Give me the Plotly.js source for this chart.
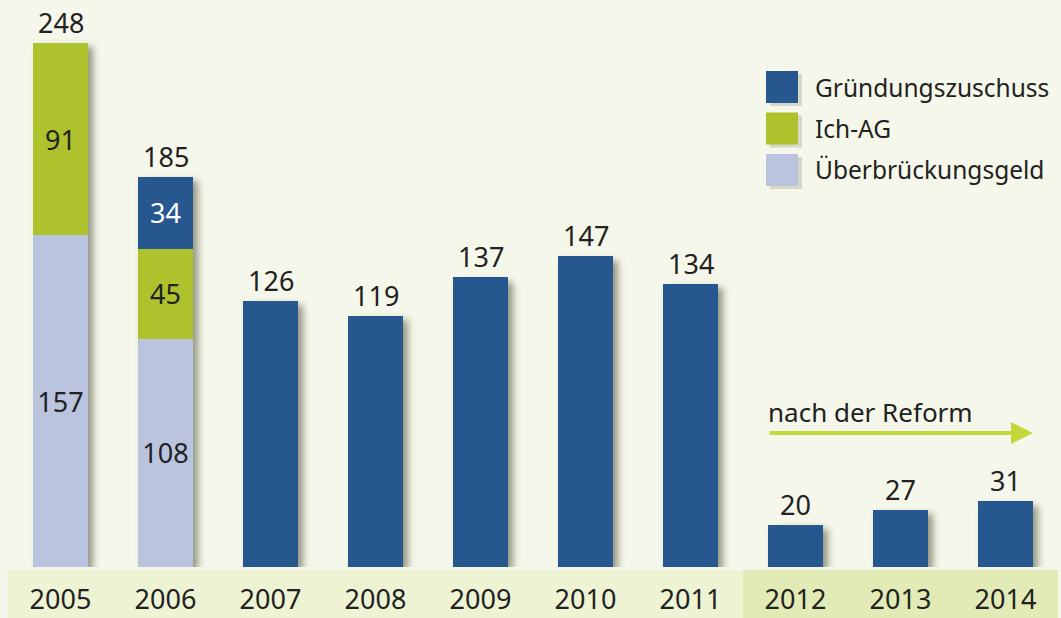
<!DOCTYPE html>
<html><head><meta charset="utf-8">
<script src="https://cdn.plot.ly/plotly-3.0.1.min.js"></script>
<style>html,body{margin:0;padding:0;background:#f5f7ea;} #chart{width:1061px;height:618px;}</style>
</head><body><div id="chart"></div>
<script>
// ---- data ----
const years = ['2005','2006','2007','2008','2009','2010','2011','2012','2013','2014'];
const ueberbrueckung = [157, 108, null, null, null, null, null, null, null, null];
const ichAG = [91, 42.6, null, null, null, null, null, null, null, null];
const gruendung = [null, 34.1, 126, 119, 137, 147, 134, 20, 27, 31];
const ueberLabels = ['157', '108', '', '', '', '', '', '', '', ''];
const ichLabels = ['91', '45', '', '', '', '', '', '', '', ''];
const gruendLabels = ['', '34', '', '', '', '', '', '', '', ''];
const totals = [248, 185, 126, 119, 137, 147, 134, 20, 27, 31];
const seriesNames = ['Gründungszuschuss', 'Ich-AG', 'Überbrückungsgeld'];
const reformNote = 'nach der Reform';
const reformStartIndex = 7;

// ---- style ----
const FONT = '"Noto Sans", "Open Sans", sans-serif';
const C_BLUE = '#26578f', C_GREEN = '#adc22d', C_LAV = '#bbc4de';
const BG = '#f5f7ea';
const W = 1061, H = 618, ML = 8, MR = 3, MT = 7, MB = 51;
const plotH = H - MT - MB;
const BW = 0.52;

const stackHeights = years.map((_, i) => (ueberbrueckung[i] || 0) + (ichAG[i] || 0) + (gruendung[i] || 0));

const traces = [
  { type: 'bar', x: years, y: stackHeights, base: years.map(() => -2), width: BW, offset: -BW / 2 + 0.045,
    marker: { color: 'rgba(70,72,50,0.55)' }, hoverinfo: 'skip', showlegend: false, name: 'shadow' },
  { type: 'bar', x: years, y: ueberbrueckung, name: seriesNames[2], width: BW, marker: { color: C_LAV },
    text: ueberLabels, textposition: 'inside', insidetextanchor: 'middle', textangle: 0, constraintext: 'none',
    textfont: { family: FONT, size: 27, color: '#222' }, hoverinfo: 'skip' },
  { type: 'bar', x: years, y: ichAG, name: seriesNames[1], width: BW, marker: { color: C_GREEN },
    text: ichLabels, textposition: 'inside', insidetextanchor: 'middle', textangle: 0, constraintext: 'none',
    textfont: { family: FONT, size: 27, color: '#222' }, hoverinfo: 'skip' },
  { type: 'bar', x: years, y: gruendung, name: seriesNames[0], width: BW, marker: { color: C_BLUE },
    text: gruendLabels, textposition: 'inside', insidetextanchor: 'middle', textangle: 0, constraintext: 'none',
    textfont: { family: FONT, size: 27, color: '#ffffff' }, hoverinfo: 'skip' }
];

const annotations = [];
years.forEach((yr, i) => {
  annotations.push({ x: i, y: stackHeights[i], xref: 'x', yref: 'y', text: String(totals[i]), showarrow: false,
    yanchor: 'bottom', yshift: 0, font: { family: FONT, size: 27, color: '#222' } });
});

const n = years.length;
const legColors = [C_BLUE, C_GREEN, C_LAV];
const shapes = [];
const bandTop = -3 / plotH, bandBot = -MB / plotH;
shapes.push({ type: 'rect', xref: 'paper', yref: 'paper', x0: 0, x1: reformStartIndex / n, y0: bandBot, y1: bandTop,
  fillcolor: '#edf3d3', line: { width: 0 }, layer: 'below' });
shapes.push({ type: 'rect', xref: 'paper', yref: 'paper', x0: reformStartIndex / n, x1: 1, y0: bandBot, y1: bandTop,
  fillcolor: '#e2ebb5', line: { width: 0 }, layer: 'below' });

const pxX = px => (px - ML) / (W - ML - MR);
const pxY = py => (H - MB - py) / plotH;
seriesNames.forEach((nm, k) => {
  const cy = 87 + k * 41.5;
  shapes.push({ type: 'rect', xref: 'paper', yref: 'paper', x0: pxX(770), x1: pxX(802), y0: pxY(cy + 16 + 3), y1: pxY(cy - 16 + 3),
    fillcolor: 'rgba(70,72,50,0.18)', line: { width: 0 } });
  shapes.push({ type: 'rect', xref: 'paper', yref: 'paper', x0: pxX(766), x1: pxX(798), y0: pxY(cy + 16), y1: pxY(cy - 16),
    fillcolor: legColors[k], line: { width: 0 } });
  annotations.push({ xref: 'paper', yref: 'paper', x: pxX(813), y: pxY(cy), xanchor: 'left', yanchor: 'middle',
    text: nm, showarrow: false, font: { family: FONT, size: 24.5, color: '#222' } });
});

annotations.push({ xref: 'paper', yref: 'paper', x: pxX(766), y: pxY(412), xanchor: 'left', yanchor: 'middle',
  text: reformNote, showarrow: false, font: { family: FONT, size: 26, color: '#222' } });
annotations.push({ xref: 'paper', yref: 'paper', x: pxX(1033), y: pxY(433), ax: -265, ay: 0, text: '',
  showarrow: true, arrowhead: 2, arrowsize: 1.1, arrowwidth: 4, arrowcolor: '#c2d83a' });

const layout = {
  width: W, height: H,
  margin: { l: ML, r: MR, t: MT, b: MB, pad: 0 },
  paper_bgcolor: BG, plot_bgcolor: BG,
  barmode: 'stack', showlegend: false,
  xaxis: { type: 'category', categoryarray: years, categoryorder: 'array', range: [-0.5, n - 0.5], autorange: false,
    showgrid: false, zeroline: false, showline: false, ticks: '',
    tickfont: { family: FONT, size: 27, color: '#222' }, ticklabelstandoff: 14, fixedrange: true },
  yaxis: { range: [0, 265], autorange: false, showgrid: false, zeroline: false, showline: false, showticklabels: false, fixedrange: true },
  shapes: shapes, annotations: annotations, hovermode: false
};

Plotly.newPlot('chart', traces, layout, { displayModeBar: false, staticPlot: true }).then(gd => {
  const svg = gd.querySelector('svg.main-svg');
  const NS = 'http://www.w3.org/2000/svg';
  let defs = svg.querySelector('defs');
  const f = document.createElementNS(NS, 'filter');
  f.setAttribute('id', 'barShadowBlur');
  f.setAttribute('x', '-50%'); f.setAttribute('y', '-50%'); f.setAttribute('width', '200%'); f.setAttribute('height', '200%');
  const b = document.createElementNS(NS, 'feGaussianBlur');
  b.setAttribute('stdDeviation', '3.5');
  f.appendChild(b); defs.appendChild(f);
  const firstTrace = gd.querySelector('.barlayer .trace');
  if (firstTrace) firstTrace.setAttribute('filter', 'url(#barShadowBlur)');
});
</script>
</body></html>
